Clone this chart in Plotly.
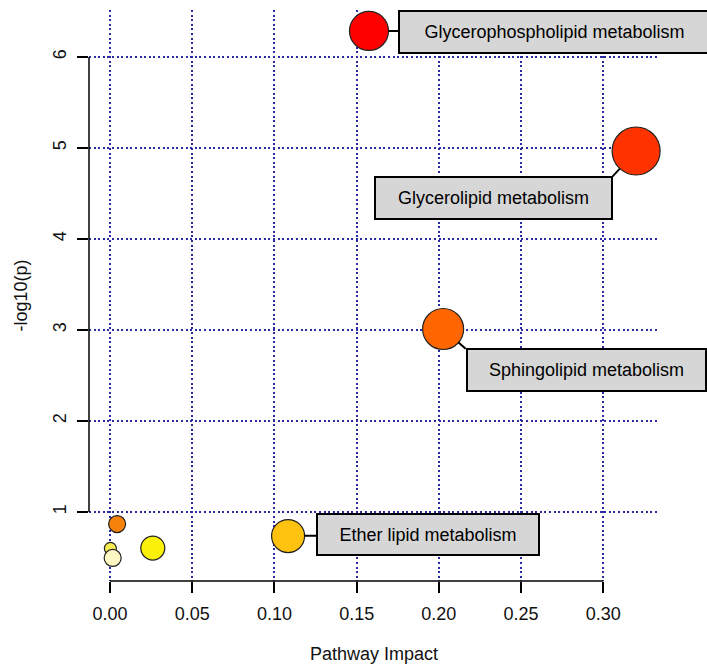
import plotly.graph_objects as go

# ---- data ----
pathways = [
    "Glycerophospholipid metabolism",
    "Glycerolipid metabolism",
    "Sphingolipid metabolism",
    "Ether lipid metabolism",
    "Pathway 5",
    "Pathway 6",
    "Pathway 7",
    "Pathway 8",
]
impact = [0.1575, 0.320, 0.2026, 0.1083, 0.0043, 0.0260, 0.0002, 0.0016]
neglogp = [6.286, 4.967, 3.011, 0.736, 0.868, 0.604, 0.600, 0.495]
labelled = [True, True, True, True, False, False, False, False]

x_ticks = [0.00, 0.05, 0.10, 0.15, 0.20, 0.25, 0.30]
x_tick_text = ["0.00", "0.05", "0.10", "0.15", "0.20", "0.25", "0.30"]
y_ticks = [1, 2, 3, 4, 5, 6]
y_tick_text = ["1", "2", "3", "4", "5", "6"]

# ---- styles ----
colors = ["#FF0000", "#FF3300", "#FF6600", "#FFC20E", "#F5820A", "#FAF00A", "#F7EC50", "#FFF8C4"]
bubble_px = [39, 48, 41, 33, 17, 24, 12, 17]
# label box: (box centre dx, dy in px, box width, box height, connector tail dx, dy or None)
label_style = [
    (186, 1, 310, 40, None),
    (-143, 47, 236, 40, (-25, 27)),
    (143, 41, 238, 40, (24, 21)),
    (140, -2, 221, 39, None),
]

FONT = "Liberation Sans, Arial, sans-serif"
TXT = "#111111"
W, H = 707, 665
ml, mr, mt, mb = 89, 49, 10, 84

fig = go.Figure()
fig.add_trace(go.Scatter(
    x=impact, y=neglogp, mode="markers",
    marker=dict(size=bubble_px, color=colors, opacity=1,
                line=dict(color="#222222", width=1.2)),
    hoverinfo="text", text=pathways, cliponaxis=False,
))

k = 0
for i, name in enumerate(pathways):
    if not labelled[i]:
        continue
    dx, dy, bw, bh, tail = label_style[k]
    k += 1
    box = dict(
        x=impact[i], y=neglogp[i], xref="x", yref="y", text=name,
        bgcolor="#D6D6D6", bordercolor="black", borderwidth=2, borderpad=0,
        width=bw - 1, height=bh,
        font=dict(family=FONT, size=18, color="black"),
    )
    if tail is None:
        fig.add_annotation(**box, showarrow=True, arrowhead=0, arrowwidth=2,
                           arrowcolor="black", ax=dx, ay=dy,
                           standoff=bubble_px[i] / 2)
    else:
        fig.add_annotation(x=impact[i], y=neglogp[i], xref="x", yref="y",
                           text=" ", font=dict(size=1), showarrow=True, arrowhead=0,
                           arrowwidth=2, arrowcolor="black", ax=tail[0], ay=tail[1],
                           standoff=bubble_px[i] / 2)
        fig.add_annotation(**box, showarrow=False, xshift=dx, yshift=-dy)

# axis lines spanning tick range (R style)
fig.add_shape(type="line", xref="paper", yref="y", x0=0, x1=0,
              y0=min(y_ticks), y1=max(y_ticks), line=dict(color="black", width=1.5))
fig.add_shape(type="line", xref="x", yref="paper", x0=min(x_ticks), x1=max(x_ticks),
              y0=0, y1=0, line=dict(color="black", width=1.5))

plot_w = W - ml - mr
plot_h = H - mt - mb

fig.add_annotation(text="Pathway Impact", xref="paper", yref="paper",
                   x=(374 - ml) / plot_w, y=-(654 - (H - mb)) / plot_h,
                   xanchor="center", yanchor="middle",
                   showarrow=False, font=dict(family=FONT, size=18, color=TXT))
fig.add_annotation(text="-log10(p)", xref="paper", yref="paper",
                   x=(20 - ml) / plot_w, y=0.5, textangle=-90,
                   xanchor="center", yanchor="middle",
                   showarrow=False, font=dict(family=FONT, size=18, color=TXT))

grid = "#2A2AA2"
fig.update_xaxes(range=[-0.0128, 0.3333], tickvals=x_ticks, ticktext=x_tick_text,
                 showgrid=True, gridcolor=grid, griddash="2px,2.6px", gridwidth=1.5,
                 zeroline=False, showline=False, ticks="outside", ticklen=11,
                 tickwidth=1.5, tickcolor="black", ticklabelstandoff=5,
                 tickfont=dict(family=FONT, size=18, color=TXT))
fig.update_yaxes(range=[0.242, 6.516], tickvals=y_ticks, ticktext=y_tick_text,
                 showgrid=True, gridcolor=grid, griddash="2px,2.6px", gridwidth=1.5,
                 zeroline=False, showline=False, ticks="outside", ticklen=11,
                 tickwidth=1.5, tickcolor="black", tickangle=-90, ticklabelstandoff=4,
                 tickfont=dict(family=FONT, size=18, color=TXT))

fig.update_layout(width=W, height=H, margin=dict(l=ml, r=mr, t=mt, b=mb),
                  plot_bgcolor="white", paper_bgcolor="white", showlegend=False)

fig.write_html("out.html")
